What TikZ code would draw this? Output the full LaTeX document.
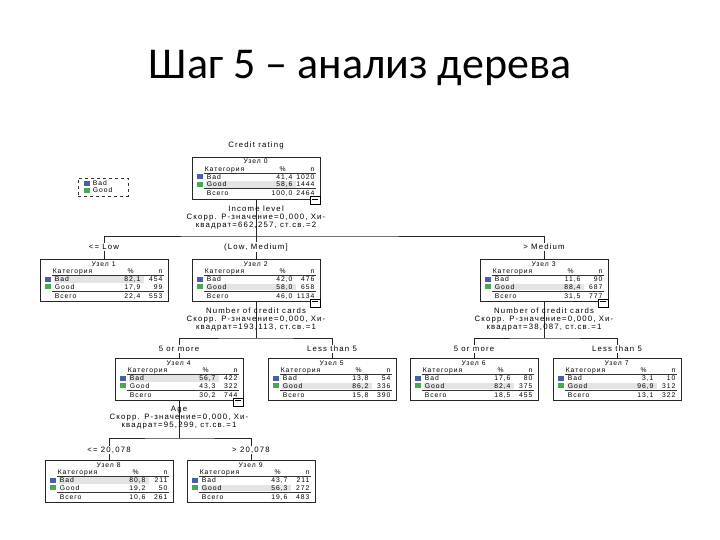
\documentclass[tikz,border=0pt]{standalone}
\usepackage{fontspec}
\setmainfont{Liberation Sans}
\newfontfamily\titlefont{Carlito}
\newfontfamily\tabfont[LetterSpace=14]{Liberation Sans}
\newfontfamily\splitfont[LetterSpace=15]{Liberation Sans}
\usetikzlibrary{calc}
\definecolor{badblue}{RGB}{70,95,165}
\definecolor{goodgreen}{RGB}{70,170,80}
\definecolor{hlgray}{RGB}{228,228,228}
\tikzset{
  tbox/.style={draw=black!85, line width=0.8pt, minimum width=128pt, minimum height=42pt, inner sep=0pt, anchor=north},
  ttext/.style={font=\tabfont\fontsize{6.8}{7}\selectfont, inner sep=0pt},
  stext/.style={font=\splitfont\fontsize{7.8}{8}\selectfont, inner sep=0pt, align=center, anchor=north},
  blabel/.style={font=\splitfont\fontsize{7.8}{8}\selectfont, inner sep=1pt, fill=white},
  conn/.style={draw=black!85, line width=0.8pt},
  rule/.style={draw=black!80, line width=0.6pt},
}
% name, x, top, k, hl, bad%, bad n, good%, good n
\newcommand\TNode[9]{%
  \node[tbox] (#1) at (#2,#3) {};
  \begin{scope}[shift={(#1.north west)}]
    \ifnum#5=1 \fill[hlgray] (14,17) rectangle (104,23.5);\fi
    \ifnum#5=2 \fill[hlgray] (14,24.5) rectangle (104,31);\fi
    \node[ttext,anchor=base] (#1-h) at (64,7) {Узел #4};
    \node[ttext,anchor=base west] (#1-c) at (13,14.4) {Категория};
    \node[ttext,anchor=base] (#1-p) at (91,14.4) {\%};
    \node[ttext,anchor=base east] (#1-n) at (123,14.4) {n};
    \draw[rule] (12,16) -- (124,16);
    \fill[badblue] (5,17.5) rectangle (11,22.5);
    \fill[goodgreen] (5,25) rectangle (11,30);
    \node[ttext,anchor=base west] (#1-b) at (15,22.5) {Bad};
    \node[ttext,anchor=base east] (#1-bp) at (101,22.5) {#6};
    \node[ttext,anchor=base east] (#1-bn) at (123,22.5) {#7};
    \node[ttext,anchor=base west] (#1-g) at (15,30) {Good};
    \node[ttext,anchor=base east] (#1-gp) at (101,30) {#8};
    \node[ttext,anchor=base east] (#1-gn) at (123,30) {#9};
    \draw[rule] (12,31.8) -- (124,31.8);
  \end{scope}}
% name, total%, total n
\newcommand\TTot[3]{%
  \begin{scope}[shift={(#1.north west)}]
    \node[ttext,anchor=base west] (#1-t) at (15,39) {Всего};
    \node[ttext,anchor=base east] (#1-tp) at (101,39) {#2};
    \node[ttext,anchor=base east] (#1-tn) at (123,39) {#3};
  \end{scope}}
\newcommand\Collapse[1]{%
  \begin{scope}[shift={(#1.south east)}]
    \draw[line width=0.6pt,fill=white] (-10,-3) rectangle (0,5);
    \draw[line width=0.6pt] (-8,-0.5) -- (-2,-0.5);
  \end{scope}}
\begin{document}
\begin{tikzpicture}[x=1pt,y=-1pt]
\useasboundingbox (0,0) rectangle (720,540);
\node[font=\titlefont\fontsize{44}{52}\selectfont] (title) at (360,68) {Шаг 5 – анализ дерева};

% legend
\node[draw=black!80, dashed, line width=0.6pt, minimum width=50pt, minimum height=18pt, inner sep=0pt] (leg) at (103,187) {};
\fill[badblue] ($(leg.north west)+(6,3.5)$) rectangle ($(leg.north west)+(12,8)$);
\fill[goodgreen] ($(leg.north west)+(6,10.5)$) rectangle ($(leg.north west)+(12,15)$);
\node[ttext,anchor=base west] (leg-b) at ($(leg.north west)+(15,8)$) {Bad};
\node[ttext,anchor=base west] (leg-g) at ($(leg.north west)+(15,15)$) {Good};

% root
\node[stext] (ct) at (256,142) {Credit rating};
\TNode{n0}{256}{157}{0}{2}{41,4}{1020}{58,6}{1444}
\TTot{n0}{100,0}{2464}

% level 1
\TNode{n1}{104}{259}{1}{1}{82,1}{454}{17,9}{99}
\TTot{n1}{22,4}{553}
\TNode{n2}{256}{259}{2}{2}{42,0}{476}{58,0}{658}
\TTot{n2}{46,0}{1134}
\TNode{n3}{544}{259}{3}{2}{11,6}{90}{88,4}{687}
\TTot{n3}{31,5}{777}

% level 2
\TNode{n4}{179}{358}{4}{1}{56,7}{422}{43,3}{322}
\TTot{n4}{30,2}{744}
\TNode{n5}{332}{358}{5}{2}{13,8}{54}{86,2}{336}
\TTot{n5}{15,8}{390}
\TNode{n6}{474}{358}{6}{2}{17,6}{80}{82,4}{375}
\TTot{n6}{18,5}{455}
\TNode{n7}{617}{358}{7}{2}{3,1}{10}{96,9}{312}
\TTot{n7}{13,1}{322}

% level 3
\TNode{n8}{109}{460}{8}{1}{80,8}{211}{19,2}{50}
\TTot{n8}{10,6}{261}
\TNode{n9}{251}{460}{9}{2}{43,7}{211}{56,3}{272}
\TTot{n9}{19,6}{483}

% connectors
\coordinate (b0) at (256,236);
\draw[conn] (n0.south) -- (b0);
\draw[conn] (n1.north) |- (b0) -| (n3.north);
\draw[conn] (b0) -- (n2.north);
\coordinate (b2) at (256,338);
\draw[conn] (n2.south) -- (b2);
\draw[conn] (n4.north) |- (b2) -| (n5.north);
\coordinate (b3) at (544,338);
\draw[conn] (n3.south) -- (b3);
\draw[conn] (n6.north) |- (b3) -| (n7.north);
\coordinate (b4) at (179,438);
\draw[conn] (n4.south) -- (b4);
\draw[conn] (n8.north) |- (b4) -| (n9.north);

\Collapse{n0}\Collapse{n2}\Collapse{n3}\Collapse{n4}

% split texts
\node[stext] (s0) at ($(n0.south)+(0,5.5)$) {Income level\\Скорр. P-значение=0,000, Хи-\\квадрат=662,257, ст.св.=2};
\node[stext] (s2) at ($(n2.south)+(0,5.5)$) {Number of credit cards\\Скорр. P-значение=0,000, Хи-\\квадрат=193,113, ст.св.=1};
\node[stext] (s3) at ($(n3.south)+(0,5.5)$) {Number of credit cards\\Скорр. P-значение=0,000, Хи-\\квадрат=38,087, ст.св.=1};
\node[stext] (s4) at ($(n4.south)+(0,5.5)$) {Age\\Скорр. P-значение=0,000, Хи-\\квадрат=95,299, ст.св.=1};

% branch labels
\node[blabel] (l1) at (104,247) {<= Low};
\node[blabel] (l2) at (256,247) {(Low, Medium]};
\node[blabel] (l3) at (544,247) {> Medium};
\node[blabel] (l4) at (179,349) {5 or more};
\node[blabel] (l5) at (332,349) {Less than 5};
\node[blabel] (l6) at (474,349) {5 or more};
\node[blabel] (l7) at (617,349) {Less than 5};
\node[blabel] (l8) at (109,450) {<= 20,078};
\node[blabel] (l9) at (251,450) {> 20,078};
\end{tikzpicture}
\end{document}
